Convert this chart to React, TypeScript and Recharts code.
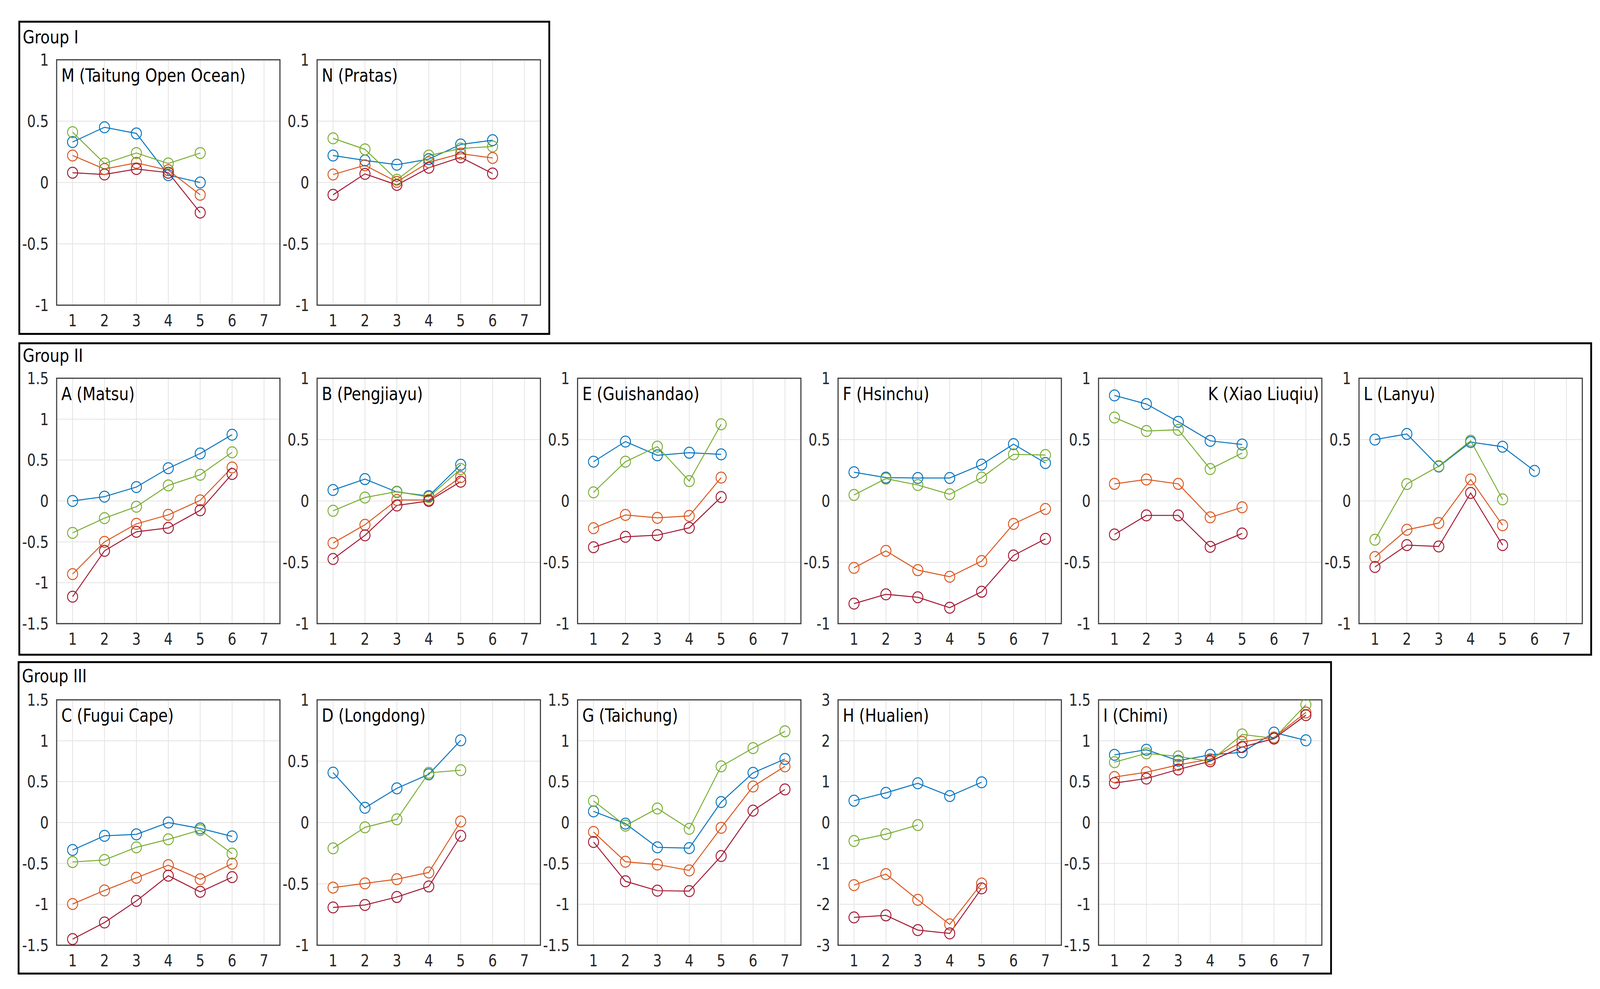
import React from 'react';
import { LineChart, Line, XAxis, YAxis, CartesianGrid, ReferenceArea } from 'recharts';

// shared axes
const xTicks = [1, 2, 3, 4, 5, 6, 7];
const ticks1 = [-1, -0.5, 0, 0.5, 1];
const ticks15 = [-1.5, -1, -0.5, 0, 0.5, 1, 1.5];
const ticks3 = [-3, -2, -1, 0, 1, 2, 3];

// Group I
const mBlue = [0.33, 0.45, 0.4, 0.06, 0.0];
const mOrange = [0.22, 0.11, 0.16, 0.1, -0.1];
const mGreen = [0.41, 0.155, 0.24, 0.155, 0.24];
const mRed = [0.08, 0.065, 0.11, 0.08, -0.245];

const nBlue = [0.22, 0.18, 0.145, 0.19, 0.31, 0.345];
const nOrange = [0.065, 0.14, 0.005, 0.165, 0.235, 0.2];
const nGreen = [0.36, 0.27, 0.022, 0.22, 0.277, 0.294];
const nRed = [-0.1, 0.07, -0.02, 0.12, 0.205, 0.073];

// Group II
const aBlue = [0.0, 0.053, 0.17, 0.4, 0.58, 0.81];
const aOrange = [-0.894, -0.5, -0.28, -0.17, 0.007, 0.41];
const aGreen = [-0.39, -0.21, -0.07, 0.19, 0.32, 0.595];
const aRed = [-1.17, -0.61, -0.377, -0.33, -0.114, 0.33];

const bBlue = [0.089, 0.178, 0.073, 0.04, 0.295];
const bOrange = [-0.343, -0.194, 0.008, 0.008, 0.194];
const bGreen = [-0.08, 0.028, 0.076, 0.032, 0.26];
const bRed = [-0.473, -0.28, -0.037, 0.0, 0.157];

const eBlue = [0.32, 0.484, 0.372, 0.393, 0.38];
const eOrange = [-0.222, -0.114, -0.138, -0.122, 0.19];
const eGreen = [0.07, 0.32, 0.443, 0.162, 0.625];
const eRed = [-0.377, -0.292, -0.279, -0.219, 0.032];

const fBlue = [0.234, 0.19, 0.187, 0.187, 0.296, 0.463, 0.309];
const fOrange = [-0.545, -0.407, -0.564, -0.618, -0.49, -0.187, -0.065];
const fGreen = [0.049, 0.182, 0.13, 0.054, 0.19, 0.38, 0.374];
const fRed = [-0.837, -0.761, -0.785, -0.87, -0.74, -0.444, -0.309];

const kBlue = [0.86, 0.79, 0.645, 0.49, 0.46];
const kOrange = [0.139, 0.175, 0.139, -0.134, -0.052];
const kGreen = [0.68, 0.57, 0.58, 0.26, 0.39];
const kRed = [-0.273, -0.118, -0.118, -0.374, -0.265];

const lBlue = [0.5, 0.546, 0.28, 0.48, 0.442, 0.245];
const lOrange = [-0.457, -0.235, -0.18, 0.175, -0.198];
const lGreen = [-0.316, 0.138, 0.284, 0.491, 0.013];
const lRed = [-0.538, -0.36, -0.371, 0.065, -0.36];

// Group III
const cBlue = [-0.336, -0.162, -0.144, 0.0, -0.072, -0.17];
const cOrange = [-0.996, -0.83, -0.675, -0.521, -0.693, -0.503];
const cGreen = [-0.483, -0.457, -0.303, -0.205, -0.092, -0.38];
const cRed = [-1.425, -1.222, -0.958, -0.65, -0.847, -0.668];

const dBlue = [0.407, 0.12, 0.279, 0.393, 0.67];
const dOrange = [-0.53, -0.496, -0.462, -0.407, 0.009];
const dGreen = [-0.21, -0.039, 0.026, 0.405, 0.427];
const dRed = [-0.692, -0.672, -0.607, -0.521, -0.108];

const gBlue = [0.136, -0.013, -0.303, -0.313, 0.251, 0.608, 0.777];
const gOrange = [-0.115, -0.479, -0.513, -0.585, -0.064, 0.441, 0.687];
const gGreen = [0.264, -0.038, 0.172, -0.077, 0.687, 0.91, 1.115];
const gRed = [-0.238, -0.718, -0.833, -0.838, -0.41, 0.146, 0.405];

const hBlue = [0.534, 0.726, 0.96, 0.648, 0.985];
const hOrange = [-1.53, -1.26, -1.89, -2.49, -1.49];
const hGreen = [-0.451, -0.285, -0.062];
const hRed = [-2.32, -2.27, -2.63, -2.71, -1.61];

const iBlue = [0.828, 0.89, 0.756, 0.828, 0.859, 1.1, 1.005];
const iOrange = [0.556, 0.615, 0.705, 0.774, 0.987, 1.04, 1.346];
const iGreen = [0.738, 0.846, 0.808, 0.749, 1.077, 1.03, 1.44];
const iRed = [0.482, 0.538, 0.649, 0.749, 0.923, 1.026, 1.313];

const COLORS = { blue: '#0072BD', orange: '#D95319', green: '#77AC30', red: '#A2142F' };
const FONT = "'DejaVu Sans Condensed', 'DejaVu Sans', sans-serif";

// layout (in reference pixels; the whole sheet is stretched to the viewport)
const SHEET_W = 4435;
const SHEET_H = 2531;
const COL_LEFT = [157, 879, 1601, 2323, 3045, 3767];
const ROW_TOP = [153, 968, 1791];
const PLOT_W = 619;
const PLOT_H = 628;
const Y_AXIS_W = 100;
const X_AXIS_H = 80;
const M_TOP = 28;
const M_RIGHT = 12;

type PanelDef = {
  title: string;
  col: number;
  row: number;
  domain: [number, number];
  ticks: number[];
  blue: number[];
  orange: number[];
  green: number[];
  red: number[];
  alignRight?: boolean;
};

const panels: PanelDef[] = [
  { title: 'M (Taitung Open Ocean)', col: 0, row: 0, domain: [-1, 1], ticks: ticks1, blue: mBlue, orange: mOrange, green: mGreen, red: mRed },
  { title: 'N (Pratas)', col: 1, row: 0, domain: [-1, 1], ticks: ticks1, blue: nBlue, orange: nOrange, green: nGreen, red: nRed },
  { title: 'A (Matsu)', col: 0, row: 1, domain: [-1.5, 1.5], ticks: ticks15, blue: aBlue, orange: aOrange, green: aGreen, red: aRed },
  { title: 'B (Pengjiayu)', col: 1, row: 1, domain: [-1, 1], ticks: ticks1, blue: bBlue, orange: bOrange, green: bGreen, red: bRed },
  { title: 'E (Guishandao)', col: 2, row: 1, domain: [-1, 1], ticks: ticks1, blue: eBlue, orange: eOrange, green: eGreen, red: eRed },
  { title: 'F (Hsinchu)', col: 3, row: 1, domain: [-1, 1], ticks: ticks1, blue: fBlue, orange: fOrange, green: fGreen, red: fRed },
  { title: 'K (Xiao Liuqiu)', col: 4, row: 1, domain: [-1, 1], ticks: ticks1, blue: kBlue, orange: kOrange, green: kGreen, red: kRed, alignRight: true },
  { title: 'L (Lanyu)', col: 5, row: 1, domain: [-1, 1], ticks: ticks1, blue: lBlue, orange: lOrange, green: lGreen, red: lRed },
  { title: 'C (Fugui Cape)', col: 0, row: 2, domain: [-1.5, 1.5], ticks: ticks15, blue: cBlue, orange: cOrange, green: cGreen, red: cRed },
  { title: 'D (Longdong)', col: 1, row: 2, domain: [-1, 1], ticks: ticks1, blue: dBlue, orange: dOrange, green: dGreen, red: dRed },
  { title: 'G (Taichung)', col: 2, row: 2, domain: [-1.5, 1.5], ticks: ticks15, blue: gBlue, orange: gOrange, green: gGreen, red: gRed },
  { title: 'H (Hualien)', col: 3, row: 2, domain: [-3, 3], ticks: ticks3, blue: hBlue, orange: hOrange, green: hGreen, red: hRed },
  { title: 'I (Chimi)', col: 4, row: 2, domain: [-1.5, 1.5], ticks: ticks15, blue: iBlue, orange: iOrange, green: iGreen, red: iRed },
];

const groups = [
  { label: 'Group I', left: 51, top: 53, right: 1525, bottom: 857, labelTop: 71 },
  { label: 'Group II', left: 51, top: 876, right: 4413, bottom: 1678, labelTop: 886 },
  { label: 'Group III', left: 49, top: 1692, right: 3692, bottom: 2494, labelTop: 1706 },
];

function Panel({ p }: { p: PanelDef }) {
  const data = xTicks.map((x, i) => ({
    x,
    blue: p.blue[i] ?? null,
    orange: p.orange[i] ?? null,
    green: p.green[i] ?? null,
    red: p.red[i] ?? null,
  }));
  const w = PLOT_W + Y_AXIS_W + M_RIGHT;
  const h = PLOT_H + M_TOP + X_AXIS_H;
  const tickStyle = { fill: '#262626', fontSize: 42, fontFamily: FONT };
  return (
    <div
      style={{
        position: 'absolute',
        left: COL_LEFT[p.col] - Y_AXIS_W,
        top: ROW_TOP[p.row] - M_TOP,
        width: w,
        height: h,
      }}
    >
      <LineChart width={w} height={h} data={data} margin={{ top: M_TOP, right: M_RIGHT, left: 0, bottom: 0 }}>
        <CartesianGrid stroke="#e2e2e2" strokeWidth={2} />
        <XAxis
          type="number"
          dataKey="x"
          domain={[0.5, 7.5]}
          ticks={xTicks}
          interval={0}
          tickLine={false}
          axisLine={false}
          tick={tickStyle}
          tickMargin={18}
          height={X_AXIS_H}
          allowDataOverflow
        />
        <YAxis
          type="number"
          domain={p.domain}
          ticks={p.ticks}
          interval={0}
          tickLine={false}
          axisLine={false}
          tick={tickStyle}
          tickMargin={16}
          width={Y_AXIS_W}
          allowDataOverflow
        />
        <ReferenceArea
          x1={0.5}
          x2={7.5}
          y1={p.domain[0]}
          y2={p.domain[1]}
          fill="none"
          fillOpacity={0}
          stroke="#3a3a3a"
          strokeWidth={3}
        />
        {(['blue', 'orange', 'green', 'red'] as const).map((k) => (
          <Line
            key={k}
            type="linear"
            dataKey={k}
            stroke={COLORS[k]}
            strokeWidth={2.5}
            dot={{ r: 14, fill: 'none', stroke: COLORS[k], strokeWidth: 2.5 }}
            activeDot={false}
            isAnimationActive={false}
          />
        ))}
      </LineChart>
      <div
        style={{
          position: 'absolute',
          top: M_TOP + 16,
          ...(p.alignRight ? { right: M_RIGHT + 8 } : { left: Y_AXIS_W + 13 }),
          fontSize: 47,
          lineHeight: 1,
          fontFamily: FONT,
          color: '#000',
          whiteSpace: 'nowrap',
        }}
      >
        {p.title}
      </div>
    </div>
  );
}

export default function App() {
  const hasWin = typeof window !== 'undefined' && window.innerWidth > 0 && window.innerHeight > 0;
  const sx = hasWin ? window.innerWidth / SHEET_W : 1;
  const sy = hasWin ? window.innerHeight / SHEET_H : 1;
  return (
    <div style={{ position: 'fixed', left: 0, top: 0, right: 0, bottom: 0, overflow: 'hidden', background: '#fff' }}>
      <div
        style={{
          position: 'absolute',
          left: 0,
          top: 0,
          width: SHEET_W,
          height: SHEET_H,
          background: '#fff',
          fontFamily: FONT,
          transform: `scale(${sx}, ${sy})`,
          transformOrigin: '0 0',
        }}
      >
        {groups.map((g) => (
          <React.Fragment key={g.label}>
            <div
              style={{
                position: 'absolute',
                left: g.left,
                top: g.top,
                width: g.right - g.left,
                height: g.bottom - g.top,
                border: '5px solid #000',
                boxSizing: 'border-box',
              }}
            />
            <div
              style={{
                position: 'absolute',
                left: g.left + 12,
                top: g.labelTop,
                fontSize: 47,
                lineHeight: 1,
                color: '#000',
              }}
            >
              {g.label}
            </div>
          </React.Fragment>
        ))}
        {panels.map((p) => (
          <Panel key={p.title} p={p} />
        ))}
      </div>
    </div>
  );
}
